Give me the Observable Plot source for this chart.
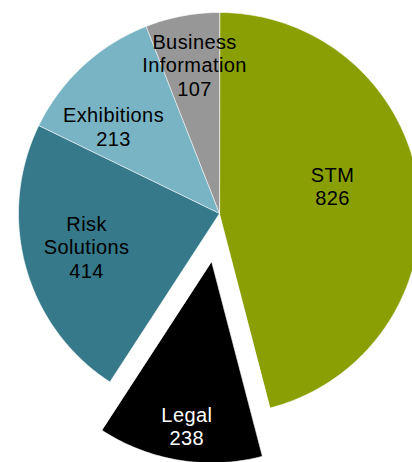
<!DOCTYPE html>
<html>
<head>
<meta charset="utf-8">
<script src="https://cdn.jsdelivr.net/npm/d3@7"></script>
<script src="https://cdn.jsdelivr.net/npm/@observablehq/plot@0.6"></script>
<style>
  html, body { margin: 0; padding: 0; background: #ffffff; overflow: hidden; }
  #chart { width: 412px; height: 462px; }
  #chart svg text { letter-spacing: 0.4px; }
</style>
</head>
<body>
<div id="chart"></div>
<script>
// ---- data ----
const categories = ["STM", "Legal", "Risk Solutions", "Exhibitions", "Business Information"];
const labels = ["STM", "Legal", "Risk\nSolutions", "Exhibitions", "Business\nInformation"];
const values = [826, 238, 414, 213, 107];
const explodedCategories = ["Legal"];

// ---- style / layout ----
const colors = ["#8a9f04", "#000000", "#35798a", "#79b4c5", "#979797"];
const textColors = ["#000000", "#ffffff", "#000000", "#000000", "#000000"];
const R = 201;            // pie radius (px units)
const explodeOffset = 49; // px
// label placement: radius from slice apex and angle shift (degrees) relative to slice bisector
const labelLayout = {
  "STM": {r: 116.3, da: -6.4},
  "Legal": {r: 165.8, da: -0.6},
  "Risk Solutions": {r: 137, da: 1.5},
  "Exhibitions": {r: 137.1, da: -7.9},
  "Business Information": {r: 151, da: 1.2}
};

const rows = categories.map((c, i) => ({category: c, label: labels[i] + "\n" + values[i], value: values[i], color: colors[i], textColor: textColors[i]}));
const arcs = d3.pie().sort(null).value(d => d.value).startAngle(0).endAngle(2 * Math.PI)(rows);

const polyPoints = [];
const labelPoints = [];
arcs.forEach(a => {
  const mid = (a.startAngle + a.endAngle) / 2;
  const off = explodedCategories.includes(a.data.category) ? explodeOffset : 0;
  const cx = off * Math.sin(mid), cy = -off * Math.cos(mid);
  polyPoints.push({category: a.data.category, x: cx, y: cy});
  const steps = Math.max(2, Math.ceil((a.endAngle - a.startAngle) * 180 / Math.PI));
  for (let k = 0; k <= steps; k++) {
    const t = a.startAngle + (a.endAngle - a.startAngle) * k / steps;
    polyPoints.push({category: a.data.category, x: cx + R * Math.sin(t), y: cy - R * Math.cos(t)});
  }
  const L = labelLayout[a.data.category];
  const la = mid + L.da * Math.PI / 180;
  labelPoints.push({label: a.data.label, textColor: a.data.textColor, x: cx + L.r * Math.sin(la), y: cy - L.r * Math.cos(la)});
});

const plot = Plot.plot({
  width: 412,
  height: 462,
  margin: 0,
  x: {domain: [-219, 193], range: [0, 412], axis: null},
  y: {domain: [-213, 249], range: [0, 462], axis: null},
  color: {domain: categories, range: colors},
  style: {background: "#ffffff", fontFamily: "'Liberation Sans', Arial, sans-serif"},
  marks: [
    Plot.line(polyPoints, {x: "x", y: "y", z: "category", fill: "category", stroke: "#ffffff", strokeWidth: 0.6, curve: "linear-closed"}),
    Plot.text(labelPoints, {
      x: "x", y: "y", text: "label", fill: d => d.textColor,
      fontSize: 20, lineHeight: 1.18, lineAnchor: "middle", textAnchor: "middle",
      fontFamily: "'Liberation Sans', Arial, sans-serif"
    })
  ]
});
document.getElementById("chart").appendChild(plot);
</script>
</body>
</html>
